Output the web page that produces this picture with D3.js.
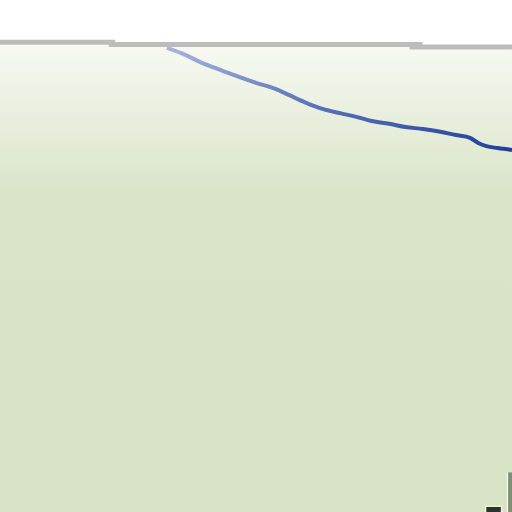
<!DOCTYPE html>
<meta charset="utf-8">
<script src="https://d3js.org/d3.v7.min.js"></script>
<style>
  body { margin: 0; background: #fff; }
  svg { display: block; }
</style>
<div id="chart"></div>
<script>
// series (x in arbitrary distance units, y in percent)
var lineX = [16.3, 18.1, 19.5, 21.0, 22.8, 25.0, 26.9, 28.2, 29.9, 31.5, 33.2, 34.8, 36.3, 38.0, 39.6, 41.3, 43.0, 44.5, 45.9, 46.7, 47.5, 48.6, 50.0];
var lineY = [99.6, 98.1, 96.6, 95.3, 93.8, 92.1, 90.8, 89.5, 87.8, 86.5, 85.6, 84.8, 83.9, 83.3, 82.6, 82.2, 81.6, 80.9, 80.3, 79.2, 78.5, 78.1, 77.7];

// top frame edge pieces (x start, x end, y level) - it is slightly stepped
var frameX0 = [0, 34, 128];
var frameX1 = [36, 132, 160];
var frameY  = [100.8, 100.3, 99.8];

// marker at the lower right corner
var markerX = [48.2];
var markerY = [0.6];

var width = 512, height = 512;

var x = d3.scaleLinear().domain([0, 50]).range([0, width]);
var y = d3.scaleLinear().domain([0, 100]).range([height, 46]);

var svg = d3.select("#chart").append("svg")
    .attr("width", width)
    .attr("height", height);

var defs = svg.append("defs");

var bg = defs.append("linearGradient")
    .attr("id", "bg")
    .attr("x1", 0).attr("y1", 0).attr("x2", 0).attr("y2", 1);
bg.append("stop").attr("offset", "0%").attr("stop-color", "#f7f9f1");
bg.append("stop").attr("offset", "32%").attr("stop-color", "#d9e4c8");
bg.append("stop").attr("offset", "100%").attr("stop-color", "#d8e3c6");

var lg = defs.append("linearGradient")
    .attr("id", "lg")
    .attr("gradientUnits", "userSpaceOnUse")
    .attr("x1", x(16)).attr("y1", 0).attr("x2", x(50)).attr("y2", 0);
lg.append("stop").attr("offset", "0%").attr("stop-color", "#aab6da");
lg.append("stop").attr("offset", "45%").attr("stop-color", "#5670b8");
lg.append("stop").attr("offset", "100%").attr("stop-color", "#213f98");

var blur = defs.append("filter").attr("id", "soft");
blur.append("feGaussianBlur").attr("stdDeviation", 0.6);

// plot background
svg.append("rect")
    .attr("x", 0)
    .attr("y", y(100))
    .attr("width", width)
    .attr("height", height - y(100))
    .attr("fill", "url(#bg)");

// top frame line
svg.selectAll(".frame")
    .data(frameY)
    .enter()
    .append("line")
      .attr("class", "frame")
      .attr("x1", function(d, i) { return x(frameX0[i] * 50 / 160); })
      .attr("x2", function(d, i) { return x(frameX1[i] * 50 / 160); })
      .attr("y1", function(d) { return y(d); })
      .attr("y2", function(d) { return y(d); })
      .attr("stroke", "#bcbcbc")
      .attr("stroke-width", 5);

// the curve
var pts = lineX.map(function(d, i) { return [d, lineY[i]]; });
svg.append("path")
    .datum(pts)
    .attr("fill", "none")
    .attr("stroke", "url(#lg)")
    .attr("stroke-width", 4)
    .attr("stroke-linejoin", "round")
    .attr("filter", "url(#soft)")
    .attr("d", d3.line()
        .curve(d3.curveMonotoneX)
        .x(function(d) { return x(d[0]); })
        .y(function(d) { return y(d[1]); }));

// right axis edge at the bottom
svg.append("rect")
    .attr("x", x(49.5))
    .attr("y", y(8.5))
    .attr("width", 1.5)
    .attr("height", height - y(8.5))
    .attr("fill", "#fbfbe9");
svg.append("rect")
    .attr("x", x(49.62))
    .attr("y", y(8.5))
    .attr("width", 4)
    .attr("height", height - y(8.5))
    .attr("fill", "#7e8e77");

// small marker
svg.selectAll(".marker")
    .data(markerX)
    .enter()
    .append("rect")
      .attr("class", "marker")
      .attr("x", function(d) { return x(d) - 8; })
      .attr("y", function(d, i) { return y(markerY[i]) - 3; })
      .attr("width", 16)
      .attr("height", 10)
      .attr("fill", "#2e3329")
      .attr("stroke", "#f4f3de")
      .attr("stroke-width", 1.5);
</script>
